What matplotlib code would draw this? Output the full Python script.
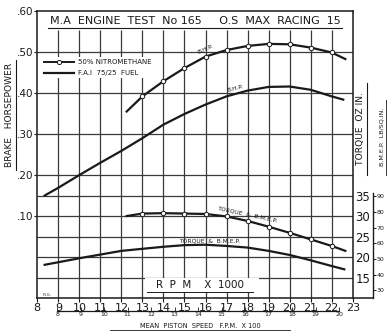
import matplotlib
matplotlib.use("Agg")
import matplotlib.pyplot as plt
from matplotlib.lines import Line2D
from matplotlib.patches import Rectangle

# ── values ─────────────────────────────────────────────────────────────────────
# 50 % nitromethane (curves with circle markers at 13 … 22 thousand rpm)
rpm_nitro    = [12.25, 13, 14, 15, 16, 17, 18, 19, 20, 21, 22, 22.65]
bhp_nitro    = [0.355, 0.392, 0.429, 0.461, 0.489, 0.505, 0.515, 0.520, 0.519, 0.511, 0.499, 0.483]
torque_nitro = [30.0, 30.6, 30.7, 30.6, 30.5, 29.9, 28.8, 27.4, 25.9, 24.3, 22.7, 21.5]

# F.A.I. 75/25 fuel (plain curves)
rpm_fai_bhp = [8.35, 9, 10, 11, 12, 13, 14, 15, 16, 17, 18, 19, 20, 21, 22, 22.55]
bhp_fai     = [0.150, 0.169, 0.200, 0.230, 0.259, 0.290, 0.323, 0.349, 0.372, 0.392,
               0.406, 0.415, 0.416, 0.408, 0.392, 0.384]
rpm_fai_tq  = [8.35, 10, 12, 14, 15, 16, 17, 18, 19, 20, 21, 22, 22.6]
torque_fai  = [18.1, 19.7, 21.5, 22.5, 22.9, 23.0, 22.7, 22.3, 21.5, 20.5, 19.2, 17.8, 17.0]

# axis scales
rpm_ticks    = list(range(8, 24))
bhp_ticks    = [0.10, 0.20, 0.30, 0.40, 0.50, 0.60]
bhp_labels   = [".10", ".20", ".30", ".40", ".50", ".60"]
torque_ticks = [15, 20, 25, 30, 35]
bmep_ticks   = [30, 40, 50, 60, 70, 80, 90]
piston_ticks = list(range(8, 21))
hgrid        = [0.50, 0.40, 0.30, 0.20, 0.15, 0.10, 0.05, 0.00, -0.05]

INK = "#1a1a1a"
GRID = "#3a3a3a"
W, H = 390, 334


def fx(px):  # figure pixel -> fraction
    return px / W


def fy(py):
    return 1 - py / H


def underline(fig, x0, y0, x1, y1, lw=0.8):
    fig.add_artist(Line2D([fx(x0), fx(x1)], [fy(y0), fy(y1)], color=INK, lw=lw))


# tidy conversions between the stacked scales
def tq2bmep(t):
    return 30 + (t - 11.9) / 0.3813


def bmep2tq(b):
    return 11.9 + (b - 30) * 0.3813


def rpm2piston(r):
    return r * 0.8945


def piston2rpm(p):
    return p / 0.8945


fig = plt.figure(figsize=(3.9, 3.34), dpi=100)
ax = fig.add_axes([fx(37.3), fy(298), fx(352.7) - fx(37.3), fy(11.1) - fy(298)])
ax.set_xlim(8, 23)
ax.set_ylim(-0.10, 0.60)

# grid drawn by hand: verticals stop under the title strip
ax.vlines(rpm_ticks[1:-1], -0.10, 0.555, color=GRID, lw=0.9, zorder=1)
ax.hlines(hgrid, 8, 23, color=GRID, lw=0.9, zorder=1)

# ── horsepower curves ──
ax.plot(rpm_nitro, bhp_nitro, color=INK, lw=1.6, marker="o", ms=3.2,
        mfc="white", mec=INK, mew=0.7, markevery=slice(1, 11), zorder=4)
ax.plot(rpm_fai_bhp, bhp_fai, color=INK, lw=1.6, zorder=4)

ax.set_xticks(rpm_ticks)
ax.set_xticklabels([str(r) for r in rpm_ticks])
ax.set_yticks(bhp_ticks)
ax.set_yticklabels(bhp_labels)
ax.tick_params(axis="x", direction="out", length=3, width=0.8, pad=0.5,
               labelsize=8, colors=INK)
ax.tick_params(axis="y", direction="out", length=2.5, width=0.8, pad=0.5,
               labelsize=7.5, colors=INK, right=False)
for s in ax.spines.values():
    s.set_color(INK)
    s.set_linewidth(1.1)
ax.spines["bottom"].set_bounds(8, 23.96)

# ── torque curves on a twin scale (oz.in) ──
ax_t = ax.twinx()
ax_t.set_ylim(10, 80)
ax_t.plot(rpm_nitro, torque_nitro, color=INK, lw=1.6, marker="o", ms=3.2,
          mfc="white", mec=INK, mew=0.7, markevery=slice(1, 11), zorder=4)
ax_t.plot(rpm_fai_tq, torque_fai, color=INK, lw=1.6, zorder=4)
ax_t.set_yticks(torque_ticks)
ax_t.tick_params(axis="y", length=0, pad=2, labelsize=8.5, colors=INK)
for s in ax_t.spines.values():
    s.set_visible(False)

# B.M.E.P. scale further right
bm = ax_t.secondary_yaxis(1.064, functions=(tq2bmep, bmep2tq))
bm.set_yticks(bmep_ticks)
bm.tick_params(axis="y", direction="out", length=2, width=0.7, pad=0.5,
               labelsize=4.5, colors=INK)
bm.spines["right"].set_bounds(25.0, 92.5)
bm.spines["right"].set_color(INK)
bm.spines["right"].set_linewidth(1.0)

# mean piston speed scale below the rpm scale
ps = ax.secondary_xaxis(-0.044, functions=(rpm2piston, piston2rpm))
ps.set_xticks(piston_ticks)
ps.tick_params(axis="x", direction="in", length=3, width=0.6, pad=1,
               labelsize=4.5, colors=INK)
ps.spines["bottom"].set_bounds(8, 20)
ps.spines["bottom"].set_color(INK)
ps.spines["bottom"].set_linewidth(0.9)

# ── curve captions ──
cap = dict(fontsize=4.3, color=INK, ha="center", va="center", zorder=5)
ax.text(16.0, 0.508, "B.H.P.", rotation=24, **cap)
ax.text(17.4, 0.412, "B.H.P.", rotation=14, **cap)
ax_t.text(18.0, 30.4, "TORQUE  &  B.M.E.P.", rotation=-12, **cap)
ax_t.text(16.2, 24.0, "TORQUE  &  B.M.E.P.", rotation=0, **cap)

# ── legend ──
handles = [
    Line2D([], [], color=INK, lw=1.4, marker="o", ms=3, mfc="white", mec=INK, mew=0.7),
    Line2D([], [], color=INK, lw=1.6),
]
leg = ax_t.legend(handles, ["50% NITROMETHANE", "F.A.I  75/25  FUEL"],
                  loc="upper left", bbox_to_anchor=(0.004, 0.853), fontsize=5,
                  handlelength=4.3, handletextpad=0.6, borderpad=0.35,
                  labelspacing=0.7, frameon=True, fancybox=False)
leg.get_frame().set_facecolor("white")
leg.get_frame().set_edgecolor("none")
leg.get_frame().set_alpha(1)
for t in leg.get_texts():
    t.set_color(INK)

# ── "R P M  X 1000" panel inside the grid ──
ax.add_patch(Rectangle((13.12, -0.086), 18.55 - 13.12, 0.034,
                       facecolor="white", edgecolor="none", zorder=2))
ax.text(15.75, -0.069, "R  P  M    X  1000", fontsize=7.5, color=INK,
        ha="center", va="center", zorder=3)
underline(fig, 147, 292, 253, 292, lw=0.7)

# ── titles / axis captions ──
fig.text(fx(195), fy(20.5), "M.A  ENGINE  TEST  No 165     O.S  MAX  RACING  15",
         fontsize=8, color=INK, ha="center", va="center")
underline(fig, 48, 27.5, 342, 27.5)

fig.text(fx(10), fy(115), "BRAKE   HORSEPOWER", rotation=90, fontsize=6.6,
         color=INK, ha="center", va="center")
underline(fig, 16, 60, 16, 170)

fig.text(fx(361), fy(129), "TORQUE  OZ IN.", rotation=90, fontsize=6.6,
         color=INK, ha="center", va="center")
underline(fig, 367, 83, 367, 175)

fig.text(fx(382), fy(137), "B.M.E.P.  LB/SQ.IN.", rotation=90, fontsize=4.6,
         color=INK, ha="center", va="center")
underline(fig, 386, 100, 386, 175, lw=0.6)

fig.text(fx(200), fy(326), "MEAN  PISTON  SPEED   F.P.M.  X 100", fontsize=4.8,
         color=INK, ha="center", va="center")
underline(fig, 110, 330, 290, 330, lw=0.6)

fig.text(fx(47), fy(295.5), "F.I.G.", fontsize=2.6, color=INK,
         ha="center", va="center")

fig.savefig("out.png", dpi=100, facecolor="white")
